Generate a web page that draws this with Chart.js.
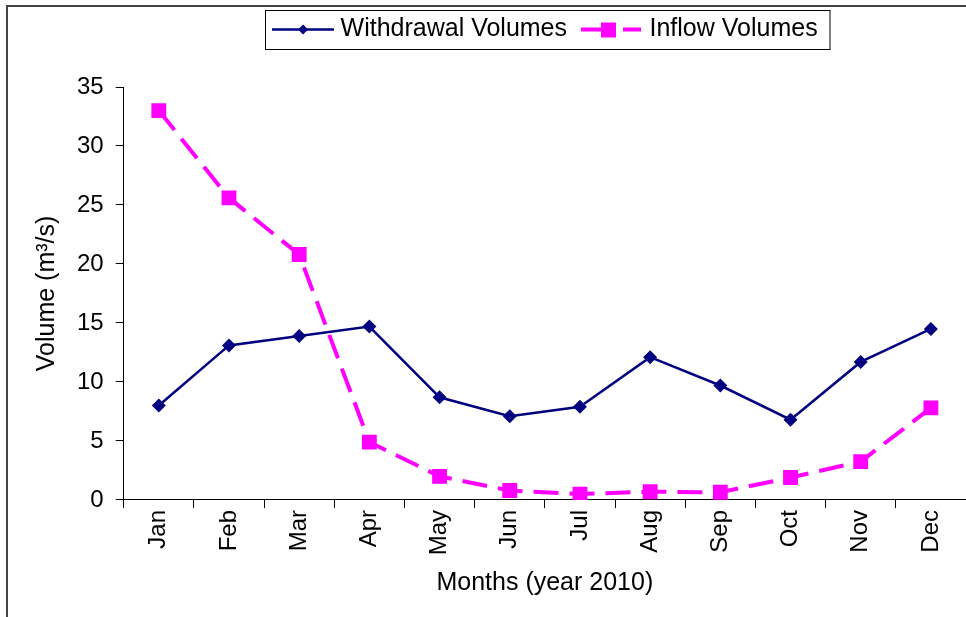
<!DOCTYPE html>
<html>
<head>
<meta charset="utf-8">
<script src="https://cdn.jsdelivr.net/npm/chart.js@4/dist/chart.umd.min.js"></script>
<style>
  html, body { margin: 0; padding: 0; background: #fff; }
  #wrap { width: 966px; height: 617px; position: relative; }
</style>
</head>
<body>
<div id="wrap"><canvas id="chart"></canvas></div>
<script>
// data
const months = ['Jan', 'Feb', 'Mar', 'Apr', 'May', 'Jun', 'Jul', 'Aug', 'Sep', 'Oct', 'Nov', 'Dec'];
const withdrawalVolumes = [8.0, 13.1, 13.9, 14.7, 8.7, 7.1, 7.9, 12.1, 9.7, 6.8, 11.7, 14.5];
const inflowVolumes = [33.0, 25.6, 20.8, 4.9, 2.0, 0.8, 0.5, 0.7, 0.65, 1.9, 3.25, 7.8];
const seriesNames = ['Withdrawal Volumes', 'Inflow Volumes'];
const yMin = 0, yMax = 35, yStep = 5;

const NAVY = '#000080';
const MAGENTA = '#FF00FF';
const FONT = 'Arial, "Liberation Sans", sans-serif';
const SAMPLE_W = 62;   // length of the legend sample line

Chart.defaults.font.family = FONT;
Chart.defaults.color = '#000';

// frame around the whole picture + Excel style legend box and samples
const excelLook = {
  id: 'excelLook',
  beforeInit(chart) {
    // leave room between the legend and the plot
    const lg = chart.legend;
    if (lg) {
      const fit = lg.fit;
      lg.fit = function () { fit.call(this); this.height += 35; };
    }
  },
  beforeDraw(chart) {
    const ctx = chart.ctx;
    ctx.save();
    ctx.fillStyle = '#fff';
    ctx.fillRect(0, 0, chart.width, chart.height);
    ctx.strokeStyle = '#444';
    ctx.lineWidth = 2;
    ctx.beginPath();
    ctx.moveTo(7, chart.height + 5);
    ctx.lineTo(7, 6);
    ctx.lineTo(chart.width + 5, 6);
    ctx.stroke();
    ctx.restore();
  },
  afterDraw(chart) {
    const lg = chart.legend;
    if (!lg || !lg.legendHitBoxes.length) return;
    const ctx = chart.ctx;
    const boxes = lg.legendHitBoxes;
    const first = boxes[0], last = boxes[boxes.length - 1];
    const cy = first.top + first.height / 2;
    ctx.save();
    // legend border
    ctx.strokeStyle = '#000';
    ctx.lineWidth = 1;
    const bx = Math.round(first.left - 7) + 0.5;
    ctx.strokeRect(bx, Math.round(cy - 20) + 0.5,
      Math.round(last.left + last.width + 12) - bx, 39);
    // samples
    boxes.forEach((hb, i) => {
      const ds = chart.data.datasets[i];
      const x0 = hb.left, y = hb.top + hb.height / 2;
      ctx.strokeStyle = ds.borderColor;
      ctx.fillStyle = ds.backgroundColor;
      if (i === 0) {
        ctx.lineWidth = 2.5;
        ctx.beginPath();
        ctx.moveTo(x0, y); ctx.lineTo(x0 + SAMPLE_W, y);
        ctx.stroke();
        const cx = x0 + SAMPLE_W / 2, r = 5;
        ctx.beginPath();
        ctx.moveTo(cx, y - r); ctx.lineTo(cx + r, y); ctx.lineTo(cx, y + r); ctx.lineTo(cx - r, y);
        ctx.closePath();
        ctx.fill();
      } else {
        ctx.lineWidth = 4;
        ctx.beginPath();
        ctx.moveTo(x0, y); ctx.lineTo(x0 + 21, y);
        ctx.moveTo(x0 + 42, y); ctx.lineTo(x0 + SAMPLE_W - 2, y);
        ctx.stroke();
        ctx.fillRect(x0 + 20, y - 7, 15, 15);
      }
    });
    ctx.restore();
  }
};

new Chart(document.getElementById('chart'), {
  type: 'line',
  data: {
    labels: months,
    datasets: [
      {
        label: seriesNames[0],
        data: withdrawalVolumes,
        borderColor: NAVY,
        backgroundColor: NAVY,
        borderWidth: 2.5,
        pointStyle: 'rectRot',
        pointRadius: 7,
        pointBorderWidth: 0,
        tension: 0
      },
      {
        label: seriesNames[1],
        data: inflowVolumes,
        borderColor: MAGENTA,
        backgroundColor: MAGENTA,
        borderWidth: 4,
        borderDash: [25, 11],
        pointStyle: 'rect',
        pointRadius: 10.5,
        pointBorderWidth: 0,
        tension: 0
      }
    ]
  },
  options: {
    responsive: true,
    maintainAspectRatio: false,
    animation: false,
    layout: { autoPadding: false, padding: { left: 30, right: 0, top: 3, bottom: 18.7 } },
    plugins: {
      tooltip: { enabled: false },
      legend: {
        position: 'top',
        fullSize: false,
        labels: {
          boxWidth: 56,
          boxHeight: 20,
          padding: 14,
          font: { size: 25 },
          color: '#000',
          generateLabels(chart) {
            return chart.data.datasets.map((ds, i) => ({
              text: ds.label,
              fillStyle: 'rgba(0,0,0,0)',
              strokeStyle: 'rgba(0,0,0,0)',
              lineWidth: 0,
              hidden: false,
              datasetIndex: i
            }));
          }
        }
      }
    },
    scales: {
      x: {
        offset: true,
        grid: { drawOnChartArea: false, offset: true, tickLength: 8, color: '#000' },
        border: { color: '#000', width: 1 },
        ticks: { minRotation: 90, maxRotation: 90, padding: 2, font: { size: 24 }, color: '#000' },
        title: { display: true, text: 'Months (year 2010)', font: { size: 25 }, color: '#000', padding: { top: 11, bottom: 0 } }
      },
      y: {
        min: yMin,
        max: yMax,
        grid: { drawOnChartArea: false, tickLength: 8, color: '#000' },
        border: { color: '#000', width: 1 },
        ticks: { stepSize: yStep, padding: 12, font: { size: 24 }, color: '#000' },
        title: { display: true, text: 'Volume (m³/s)', font: { size: 25 }, color: '#000', padding: { top: 2, bottom: 3 } }
      }
    }
  },
  plugins: [excelLook]
});
</script>
</body>
</html>
